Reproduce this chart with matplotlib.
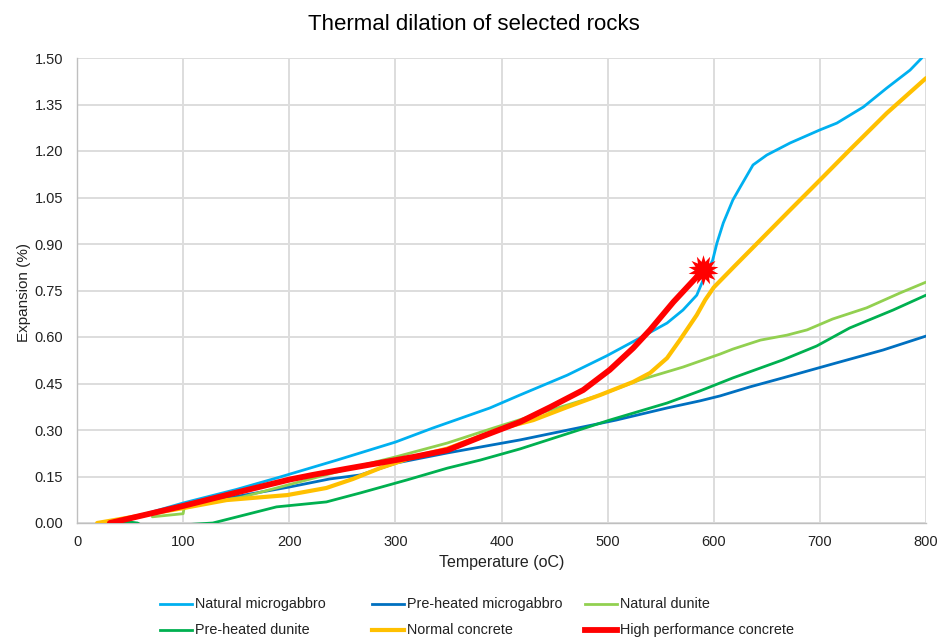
import numpy as np
import matplotlib
matplotlib.use("Agg")
import matplotlib.pyplot as plt
from matplotlib.lines import Line2D
from matplotlib.path import Path

plt.rcParams["font.family"] = ["Liberation Sans", "DejaVu Sans"]

W, H = 939, 637

gabbro_x = [31, 65, 100, 150, 191, 245, 300, 335, 389, 417.5, 462, 499, 530.5, 556, 571, 584, 590, 599, 603, 609, 618, 625, 637, 650, 672, 700, 716, 741, 763, 785, 796]
gabbro_y = [0, 0.03, 0.0645, 0.108, 0.148, 0.203, 0.261, 0.306, 0.371, 0.413, 0.477, 0.539, 0.597, 0.645, 0.687, 0.735, 0.784, 0.848, 0.903, 0.968, 1.042, 1.084, 1.155, 1.187, 1.226, 1.268, 1.29, 1.342, 1.403, 1.461, 1.50]

pre_gabbro_x = [31, 100, 141, 200, 238, 267, 301.5, 349, 380, 417.5, 508, 556, 587, 606, 634, 665, 712, 759.5, 800]
pre_gabbro_y = [0, 0.055, 0.08, 0.116, 0.142, 0.155, 0.194, 0.226, 0.245, 0.268, 0.332, 0.371, 0.394, 0.41, 0.439, 0.468, 0.513, 0.558, 0.603]

dunite_x = [71, 100, 101, 156, 220, 269.5, 300, 349, 392, 446, 493, 530, 571, 606, 618, 644, 669, 688, 712, 744, 775.5, 800]
dunite_y = [0.02, 0.03, 0.05, 0.084, 0.142, 0.187, 0.213, 0.258, 0.306, 0.364, 0.413, 0.461, 0.503, 0.545, 0.561, 0.59, 0.606, 0.623, 0.658, 0.694, 0.742, 0.777]

pre_dunite_x = [38, 50, 57, 62, 105, 128, 188, 235, 267, 311, 349, 380, 417.5, 502, 556, 587, 618, 665, 697, 728, 769, 800]
pre_dunite_y = [0.002, 0.003, 0.0, -0.01, -0.005, 0, 0.052, 0.068, 0.097, 0.139, 0.177, 0.203, 0.239, 0.332, 0.387, 0.426, 0.468, 0.526, 0.571, 0.629, 0.687, 0.735]

normal_x = [19, 60, 100, 141, 198, 235, 260, 285.5, 317, 349, 400, 430, 462, 493, 524, 540, 556, 568, 584, 592, 600, 620, 644, 672, 700, 728, 763, 800]
normal_y = [0, 0.024, 0.048, 0.074, 0.09, 0.113, 0.142, 0.177, 0.213, 0.24, 0.305, 0.332, 0.374, 0.413, 0.455, 0.484, 0.532, 0.59, 0.671, 0.72, 0.76, 0.83, 0.913, 1.01, 1.106, 1.203, 1.322, 1.435]

hpc_x = [31, 100, 150, 200, 222, 254, 285.5, 317, 349, 380, 417.5, 446, 477, 502, 524, 540, 562, 584, 590]
hpc_y = [0, 0.055, 0.098, 0.14, 0.155, 0.175, 0.194, 0.213, 0.235, 0.277, 0.326, 0.374, 0.429, 0.494, 0.564, 0.623, 0.713, 0.794, 0.816]

names = ["Natural microgabbro", "Pre-heated microgabbro", "Natural dunite",
         "Pre-heated dunite", "Normal concrete", "High performance concrete"]
colors = ["#00B0F0", "#0070C0", "#92D050", "#00B050", "#FFC000", "#FF0000"]
widths = [2.0, 2.0, 2.0, 2.0, 3.0, 4.2]
series = [(gabbro_x, gabbro_y), (pre_gabbro_x, pre_gabbro_y), (dunite_x, dunite_y),
          (pre_dunite_x, pre_dunite_y), (normal_x, normal_y), (hpc_x, hpc_y)]

y_ticks = [0, 0.15, 0.30, 0.45, 0.60, 0.75, 0.90, 1.05, 1.20, 1.35, 1.50]
x_ticks = [0, 100, 200, 300, 400, 500, 600, 700, 800]

fig = plt.figure(figsize=(W / 100, H / 100), dpi=100)
ax = fig.add_axes([77 / W, 1 - 523 / H, (926 - 77) / W, (523 - 58) / H])

for (x, y), c, lw in zip(series, colors, widths):
    ax.plot(x, y, color=c, lw=lw, solid_capstyle="round", solid_joinstyle="round", zorder=3)

# burst where the high performance concrete spalls: 14 point star with a fat core
ang = np.linspace(0, 2 * np.pi, 29)[:-1] + np.pi / 2
rad = np.where(np.arange(28) % 2 == 0, 1.0, 0.58)
verts = np.column_stack([rad * np.cos(ang), rad * np.sin(ang)])
burst = Path(np.vstack([verts, verts[0]]), closed=True)
ax.plot(hpc_x[-1], hpc_y[-1], marker=burst, ms=22, color="#FF0000", mew=0, zorder=4)

ax.set_xlim(0, 800)
ax.set_ylim(0, 1.5)
ax.set_xticks(x_ticks)
ax.set_yticks(y_ticks)
ax.set_yticklabels([f"{v:.2f}" for v in y_ticks])
ax.tick_params(length=0, labelsize=10.5, labelcolor="#222222")
ax.tick_params(axis="y", pad=10)
ax.tick_params(axis="x", pad=9)
ax.grid(True, color="#DDDDDD", lw=1.4)
ax.set_axisbelow(True)
for s in ("top", "right"):
    ax.spines[s].set_visible(False)
for s in ("left", "bottom"):
    ax.spines[s].set_color("#BFBFBF")
    ax.spines[s].set_linewidth(1.0)

fig.text(474 / W, 1 - 25 / H, "Thermal dilation of selected rocks", ha="center", va="center", fontsize=16)
fig.text(502 / W, 1 - 563 / H, "Temperature (oC)", ha="center", va="center", fontsize=11.5, color="#222222")
fig.text(24 / W, 1 - 293 / H, "Expansion (%)", rotation=90, ha="center", va="center", fontsize=11, color="#222222")

# legend laid out by hand: Excel columns are not evenly spaced
col_px = [160, 372, 585]
row_px = [604, 630]
for i, (name, c, lw) in enumerate(zip(names, colors, widths)):
    x0 = col_px[i % 3]
    yy = 1 - row_px[i // 3] / H
    fig.add_artist(Line2D([x0 / W, (x0 + 32) / W], [yy, yy], color=c, lw=lw))
    fig.text((x0 + 35) / W, yy, name, ha="left", va="center", fontsize=10.4, color="#222222")

fig.savefig("out.png", dpi=100)
